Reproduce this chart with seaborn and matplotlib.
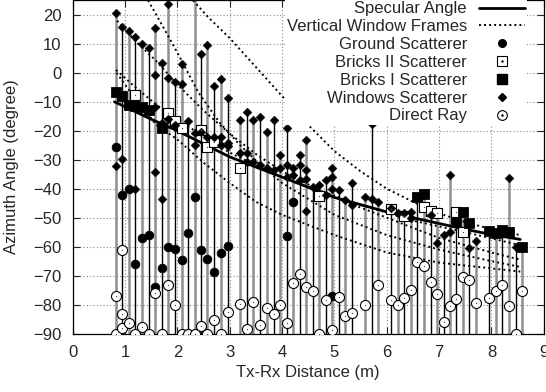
import numpy as np
import pandas as pd
import matplotlib
matplotlib.use('Agg')
import matplotlib.pyplot as plt
import seaborn as sns
from matplotlib.lines import Line2D

# ---- data ----
spec_x = [0.8, 1.5, 2.0, 2.5, 3.0, 3.5, 4.0, 4.5, 5.0, 5.5, 6.0, 6.5, 7.0, 7.5, 8.0, 8.55]
spec_y = [-10, -16, -20, -24.5, -29, -32.5, -36, -39.5, -43, -45.5, -48, -50, -52, -54, -55.8, -57.5]

# vertical window frame curves
frame1_x = [1.44, 1.6, 2.0, 2.4, 2.8, 3.2, 3.6, 4.0, 5.0, 6.0, 7.0, 8.0, 8.55]
frame1_y = [25, 20, 7, -6.7, -17, -25, -32, -38, -49, -56, -61, -65, -67]
frame2_x = [2.3, 2.6, 3.0, 3.5, 4.0, 4.5, 5.0, 5.5, 6.0, 6.5, 7.0, 7.5, 8.0, 8.55]
frame2_y = [25, 19, 12, 2, -8, -18, -27, -34, -40, -44.5, -48.5, -51.5, -54, -56]
frame3_x = [0.85, 1.2, 1.6, 2.0, 2.5, 3.0, 3.5, 4.0, 5.0, 6.0, 7.0, 8.0, 8.55]
frame3_y = [18, 11, 4, -4, -13, -21, -28, -34, -43, -50, -57, -62, -64.5]
frame4_x = [0.83, 1.2, 1.6, 2.0, 2.5, 3.0, 3.5, 4.0, 4.7, 5.5, 6.5, 7.5, 8.55]
frame4_y = [1, -5, -11, -16, -22, -27.5, -32, -36, -40.5, -45.5, -51, -55, -59.5]
frame5_x = [0.84, 1.2, 1.6, 2.0, 2.5, 3.0, 3.5, 4.0, 5.0, 6.0, 7.0, 8.0, 8.55]
frame5_y = [0, -9, -18, -23, -31, -38, -44.5, -49, -56, -62, -65.5, -67.5, -68.6]

ground_x = [0.82, 0.94, 1.07, 1.20, 1.33, 1.45, 1.58, 1.70, 1.83, 1.96, 2.08, 2.21,
            2.33, 2.45, 2.57, 2.70, 2.83, 2.96, 4.09, 4.21, 4.96]
ground_y = [-25.5, -42.2, -40.2, -66.0, -57.1, -56.0, -73.8, -67.5, -60.2, -60.8, -64.6, -55.2,
            -43.0, -61.1, -64.3, -68.6, -62.3, -59.8, -56.2, -44.5, -77.0]

bricks2_x = [1.20, 1.83, 1.96, 2.08, 2.45, 2.57, 2.70, 3.20, 4.71, 6.09, 6.33, 6.71,
             6.84, 6.96, 7.33, 7.46]
bricks2_y = [-7.5, -13.7, -16.7, -19.2, -19.8, -25.5, -24.0, -33.0, -42.5, -47.0, -49.3, -46.2,
             -47.8, -48.5, -47.9, -54.8]

bricks1_x = [0.82, 0.94, 1.07, 1.20, 1.33, 1.45, 1.70, 6.58, 6.71, 7.33, 7.46, 7.58,
             7.96, 8.09, 8.21, 8.34, 8.59]
bricks1_y = [-6.5, -8.1, -11.1, -11.3, -11.8, -12.9, -19.0, -42.7, -41.8, -51.4, -47.9, -51.9,
             -54.5, -55.2, -54.2, -54.8, -60.2]

windows_x = [0.82, 0.82, 0.94, 0.94, 1.07, 1.20, 1.20, 1.33, 1.45,
             1.58, 1.58, 1.58, 1.58, 1.70, 1.70, 1.70, 1.83, 1.83, 1.83,
             1.96, 1.96, 2.08, 2.08, 2.21, 2.33, 2.33, 2.33, 2.45, 2.45,
             2.57, 2.57, 2.70, 2.70, 2.83, 2.83, 2.83, 2.96, 2.96, 2.96,
             3.20, 3.20, 3.33, 3.33, 3.33, 3.45, 3.45, 3.58, 3.58, 3.71, 3.71,
             3.84, 3.84, 3.96, 3.96, 4.09, 4.09, 4.09, 4.21, 4.21,
             4.34, 4.34, 4.34, 4.46, 4.46, 4.46, 4.46, 4.59, 4.71, 4.84, 4.84,
             4.96, 4.96, 4.96, 5.09, 5.21, 5.34, 5.34, 5.59, 5.72, 5.72, 5.84,
             6.09, 6.21, 6.33, 6.46, 6.46, 6.84, 6.96, 7.09, 7.21, 7.21,
             7.58, 7.71, 8.34, 8.46]
windows_y = [20.8, -32.2, 15.9, -29.8, 14.4, 12.5, -40.2, 10.1, 8.6,
             15.5, -0.8, -11.7, -34.2, 3.3, -17.4, -43.7, 23.9, -1.9, -16.0,
             -3.0, -18.0, 3.2, -3.7, -16.7, 27.0, -20.9, -24.9, 6.5, -20.3,
             9.5, -22.0, -4.4, -22.2, -2.0, -22.1, -24.9, -8.6, -24.3, -25.2,
             -16.3, -27.5, -13.4, -27.8, -30.7, -16.3, -30.7, -15.2, -31.8, -20.3, -33.0,
             -16.3, -33.6, -28.4, -33.0, -19.2, -31.8, -35.9, -33.0, -35.3,
             -28.4, -31.8, -37.0, -23.2, -33.6, -36.5, -47.6, -39.3, -38.7, -37.0, -42.0,
             -33.0, -35.9, -40.0, -40.4, -43.9, -37.9, -45.6, -42.7, -17.7, -43.7, -44.7,
             -46.8, -48.3, -48.3, -47.9, -50.2, -49.2, -58.8, -56.0, -35.3, -54.8,
             -60.6, -57.9, -36.2, -60.2]

direct_x = [0.82, 0.82, 0.94, 0.94, 0.94, 1.07, 1.20, 1.33, 1.45, 1.58, 1.70, 1.83,
            1.96, 2.08, 2.21, 2.33, 2.45, 2.57, 2.70, 2.83, 2.96, 3.20, 3.33, 3.45,
            3.58, 3.71, 3.84, 3.96, 4.09, 4.21, 4.34, 4.46, 4.59, 4.71, 4.84, 4.96,
            5.09, 5.21, 5.34, 5.59, 5.84, 6.09, 6.21, 6.33, 6.46, 6.58, 6.71, 6.84,
            6.96, 7.09, 7.21, 7.33, 7.46, 7.58, 7.71, 7.96, 8.09, 8.21, 8.34, 8.46, 8.59]
direct_y = [-77.0, -90.0, -61.1, -83.3, -88.1, -86.5, -90.0, -87.6, -90.0, -76.1, -90.0, -73.2,
            -80.1, -90.0, -90.0, -90.0, -87.5, -90.0, -85.4, -90.0, -82.4, -79.9, -88.5, -79.0,
            -87.1, -81.3, -83.2, -80.1, -86.4, -72.6, -69.4, -73.8, -75.3, -90.0, -78.4, -88.7,
            -77.5, -84.1, -83.0, -80.3, -73.3, -78.4, -80.1, -77.8, -74.9, -65.2, -66.7, -72.2,
            -76.3, -86.1, -80.4, -78.0, -70.6, -71.4, -79.4, -77.7, -75.4, -73.1, -80.4, -90.0, -75.4]

x_ticks = list(range(0, 10))
y_ticks = list(range(-90, 30, 10))

# ---- style ----
sns.set_style('ticks')
plt.rcParams['font.family'] = ['Liberation Sans', 'DejaVu Sans']
plt.rcParams['font.size'] = 12

fig, ax = plt.subplots(figsize=(5.46, 3.92), dpi=100)
fig.subplots_adjust(left=0.133, right=0.996, top=0.999, bottom=0.149)

# stems: one vertical line per position, from the bottom to its highest marker
pts = pd.DataFrame({
    'x': ground_x + bricks2_x + bricks1_x + windows_x + direct_x,
    'y': ground_y + bricks2_y + bricks1_y + windows_y + direct_y,
})
tops = pts.groupby('x')['y'].max()
stem_cols = ['#8f8f8f' if i % 2 == 0 else 'black' for i in range(len(tops))]
stem_lw = [1.8 if i % 2 == 0 else 1.0 for i in range(len(tops))]
ax.vlines(tops.index, -90, tops.values, colors=stem_cols, linewidths=stem_lw, zorder=2)

dot = (0, (1, 1.6))
for fx, fy in [(frame1_x, frame1_y), (frame2_x, frame2_y), (frame3_x, frame3_y),
               (frame4_x, frame4_y), (frame5_x, frame5_y)]:
    sns.lineplot(x=fx, y=fy, ax=ax, color='black', lw=1.4, linestyle=dot,
                 sort=False, estimator=None, zorder=3)
sns.lineplot(x=spec_x, y=spec_y, ax=ax, color='black', lw=2.0,
             sort=False, estimator=None, zorder=4)

sns.scatterplot(x=ground_x, y=ground_y, ax=ax, marker='o', s=40, color='black',
                edgecolor='black', zorder=5)
sns.scatterplot(x=bricks2_x, y=bricks2_y, ax=ax, marker='s', s=50, facecolor='white',
                edgecolor='black', linewidth=0.8, zorder=5)
sns.scatterplot(x=bricks2_x, y=bricks2_y, ax=ax, marker='.', s=3, color='black', zorder=6)
sns.scatterplot(x=bricks1_x, y=bricks1_y, ax=ax, marker='s', s=50, color='black',
                edgecolor='black', zorder=5)
sns.scatterplot(x=windows_x, y=windows_y, ax=ax, marker='D', s=20, color='black',
                edgecolor='black', zorder=5)
sns.scatterplot(x=direct_x, y=direct_y, ax=ax, marker='o', s=52, facecolor='white',
                edgecolor='black', linewidth=0.8, zorder=5)
sns.scatterplot(x=direct_x, y=direct_y, ax=ax, marker='.', s=3, color='black', zorder=6)

ax.set_xlim(0, 9)
ax.set_ylim(-90, 25)
ax.set_xticks(x_ticks)
ax.set_yticks(y_ticks)
ax.grid(True, color='#888888', linestyle=(0, (1, 2)), lw=0.8)
ax.tick_params(direction='in', top=True, right=True, length=5, width=0.8, pad=8,
               labelsize=12)
for s in ax.spines.values():
    s.set_linewidth(0.9)
    s.set_color('black')
ax.set_xlabel('Tx-Rx Distance (m)', labelpad=4)
ax.set_ylabel('Azimuth Angle (degree)', labelpad=10)

handles = [
    Line2D([], [], color='black', lw=2.0),
    Line2D([], [], color='black', lw=1.4, linestyle=dot),
    Line2D([], [], color='black', marker='o', ls='', ms=5.5),
    (Line2D([], [], color='black', marker='s', ls='', ms=6.5, mfc='white', mew=0.8),
     Line2D([], [], color='black', marker='.', ls='', ms=1.5)),
    Line2D([], [], color='black', marker='s', ls='', ms=6.5),
    Line2D([], [], color='black', marker='D', ls='', ms=4.5),
    (Line2D([], [], color='black', marker='o', ls='', ms=7, mfc='white', mew=0.8),
     Line2D([], [], color='black', marker='.', ls='', ms=1.5)),
]
labels = ['Specular Angle', 'Vertical Window Frames', 'Ground Scatterer',
          'Bricks II Scatterer', 'Bricks I Scatterer', 'Windows Scatterer', 'Direct Ray']
leg = ax.legend(handles, labels, loc='upper right', bbox_to_anchor=(0.965, 1.003),
                markerfirst=False, frameon=True, fancybox=False, edgecolor='none',
                facecolor='white', framealpha=1.0, handlelength=2.8, handletextpad=0.7,
                labelspacing=0.17, borderpad=0.12, borderaxespad=0.0, fontsize=12)
leg.set_zorder(10)

plt.savefig('out.png', dpi=100)
